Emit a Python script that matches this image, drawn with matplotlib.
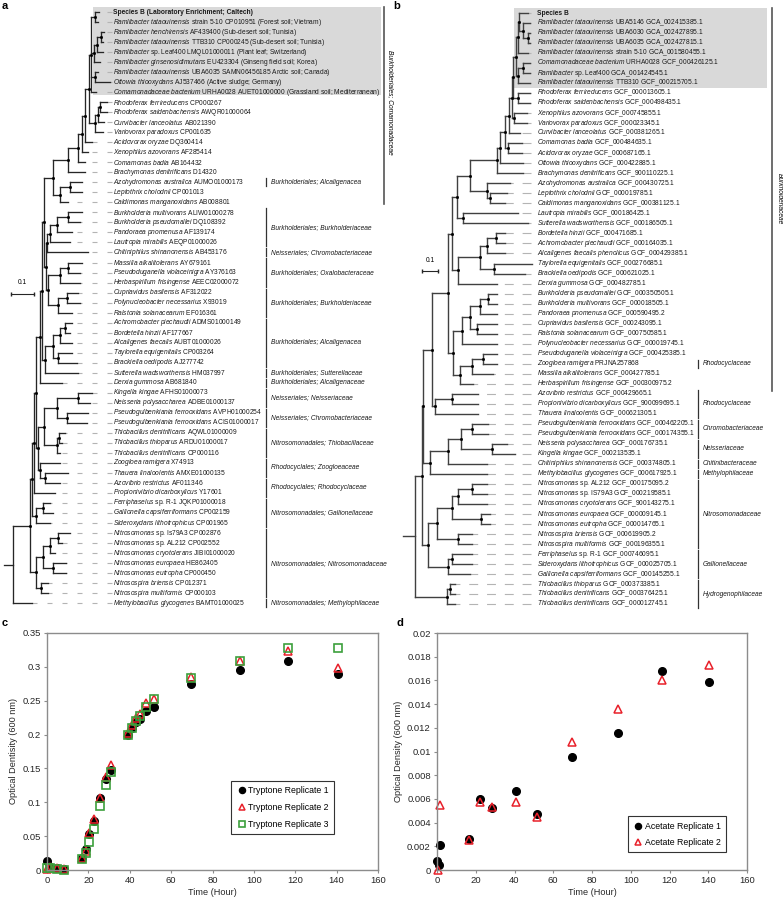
import matplotlib
matplotlib.use("Agg")
import matplotlib.pyplot as plt
from matplotlib.collections import LineCollection
from matplotlib.patches import Rectangle
from matplotlib.ticker import MultipleLocator, FuncFormatter

plt.rcParams["font.family"] = ["Liberation Sans", "DejaVu Sans"]
plt.rcParams["mathtext.fontset"] = "custom"
plt.rcParams["mathtext.it"] = "Liberation Sans:italic"
plt.rcParams["mathtext.rm"] = "Liberation Sans"
plt.rcParams["mathtext.bf"] = "Liberation Sans:bold"

# -------- TREE a : 16S rRNA --------
# (italic part, plain part); empty italic part = bold label
TAXA_A = [
    ("", "Species B (Laboratory Enrichment; Caltech)"),
    ("Ramlibacter tataouinensis", "strain 5-10 CP010951 (Forest soil; Vietnam)"),
    ("Ramlibacter henchirensis", "AF439400 (Sub-desert soil; Tunisia)"),
    ("Ramlibacter tataouinensis", "TTB310 CP000245 (Sub-desert soil; Tunisia)"),
    ("Ramlibacter", "sp. Leaf400 LMQL01000011 (Plant leaf; Switzerland)"),
    ("Ramlibacter ginsenosidimutans", "EU423304 (Ginseng field soil; Korea)"),
    ("Ramlibacter tataouinensis", "UBA6035 SAMN06456185 Arctic soil; Canada)"),
    ("Ottowia thiooxydans", "AJ537466 (Active sludge; Germany)"),
    ("Comamonadaceae bacterium", "URHA0028 AUET01000000 (Grassland soil; Mediterranean)"),
    ("Rhodoferax ferrireducens", "CP000267"),
    ("Rhodoferax saidenbachensis", "AWQR01000064"),
    ("Curvibacter lanceolatus", "AB021390"),
    ("Variovorax paradoxus", "CP001635"),
    ("Acidovorax oryzae", "DQ360414"),
    ("Xenophilus azovorans", "AF285414"),
    ("Comamonas badia", "AB164432"),
    ("Brachymonas denitrificans", "D14320"),
    ("Azohydromonas australica", "AUMO01000173"),
    ("Leptothrix cholodnii", "CP001013"),
    ("Caldimonas manganoxidans", "AB008801"),
    ("Burkholderia multivorans", "ALIW01000278"),
    ("Burkholderia pseudomallei", "DQ108392"),
    ("Pandoraea pnomenusa", "AF139174"),
    ("Lautropia mirabilis", "AEQP01000026"),
    ("Chitiniphilus shinanonensis", "AB453176"),
    ("Massilia alkalitolerans", "AY679161"),
    ("Pseudoduganella violaceinigra", "AY376163"),
    ("Herbaspirillum frisingense", "AEEC02000072"),
    ("Cupriavidus basilensis", "AF312022"),
    ("Polynucleobacter necessarius", "X93019"),
    ("Ralstonia solanacearum", "EF016361"),
    ("Achromobacter piechaudii", "ADMS01000149"),
    ("Bordetella hinzii", "AF177667"),
    ("Alcaligenes faecalis", "AUBT01000026"),
    ("Taylorella equigenitalis", "CP003264"),
    ("Brackiella oedipodis", "AJ277742"),
    ("Sutterella wadsworthensis", "HM037997"),
    ("Derxia gummosa", "AB681840"),
    ("Kingella kingae", "AFHS01000073"),
    ("Neisseria polysaccharea", "ADBE01000137"),
    ("Pseudogulbenkiania ferrooxidans", "AVPH01000254"),
    ("Pseudogulbenkiania ferrooxidans", "ACIS01000017"),
    ("Thiobacillus denitrificans", "AQWL01000009"),
    ("Thiobacillus thioparus", "ARDU01000017"),
    ("Thiobacillus denitrificans", "CP000116"),
    ("Zoogloea ramigera", "X74913"),
    ("Thauera linaloolentis", "AMXE01000135"),
    ("Azovibrio restrictus", "AF011346"),
    ("Propionivibrio dicarboxylicus", "Y17601"),
    ("Ferriphaselus", "sp. R-1 JQKP01000018"),
    ("Gallionella capsiferriformans", "CP002159"),
    ("Sideroxydans lithotrophicus", "CP001965"),
    ("Nitrosomonas", "sp. Is79A3 CP002876"),
    ("Nitrosomonas", "sp. AL212 CP002552"),
    ("Nitrosomonas cryotolerans", "JIBI01000020"),
    ("Nitrosomonas europaea", "HE862405"),
    ("Nitrosomonas eutropha", "CP000450"),
    ("Nitrosospira briensis", "CP012371"),
    ("Nitrosospira multiformis", "CP000103"),
    ("Methylobacillus glycogenes", "BAMT01000025"),
]

# node -> [(child, branch length)]; integer children are leaves (1-based)
TREE_A = {
    "root": [("A", 0.074), (60, 0.083)],
    "A": [("B", 0.009), ("NITRO", 0.026)],
    "B": [("C", 0.009), ("GAL", 0.017)],
    "C": [("D", 0.009), (49, 0.091)],
    "D": [("U", 0.017), ("L1", 0.009)],
    "U": [("U1", 0.009), (38, 0.096)],
    "U1": [("U2", 0.009), ("ALCSUT", 0.013)],
    "U2": [("TOP", 0.039), ("MID", 0.009)],
    "TOP": [("C0", 0.065), ("AL", 0.030)],
    "C0": [("C1", 0.043), (17, 0.074)],
    "C1": [("C2", 0.017), (16, 0.030)],
    "C2": [("C3", 0.013), (15, 0.026)],
    "C3": [("C4", 0.017), (14, 0.030)],
    "C4": [("GREY", 0.009), ("RHO", 0.026)],
    "GREY": [("G1", 0.017), ("G2", 0.013), ("G3", 0.017), (9, 0.022)],
    "G1": [(1, 0.017), (2, 0.013)],
    "G2": [("G2a", 0.013), (6, 0.026)],
    "G2a": [("G2b", 0.017), (5, 0.026)],
    "G2b": [(3, 0.013), (4, 0.009)],
    "G3": [(7, 0.013), (8, 0.065)],
    "RHO": [("R1", 0.013), (13, 0.035)],
    "R1": [("R2", 0.009), (12, 0.026)],
    "R2": [(10, 0.030), (11, 0.030)],
    "AL": [("AL1", 0.043), (20, 0.035)],
    "AL1": [(18, 0.052), (19, 0.052)],
    "MID": [("MIDa", 0.004), ("OX", 0.009)],
    "MIDa": [("BRK", 0.013), (25, 0.178)],
    "BRK": [("BRK1", 0.030), (24, 0.087)],
    "BRK1": [("BRK1a", 0.048), (23, 0.065)],
    "BRK1a": [(21, 0.061), (22, 0.052)],
    "OX": [("OX1", 0.052), ("CPR", 0.043)],
    "OX1": [("OX1a", 0.035), (28, 0.087)],
    "OX1a": [(26, 0.061), (27, 0.052)],
    "CPR": [("CPR1", 0.039), (31, 0.061)],
    "CPR1": [(29, 0.048), (30, 0.057)],
    "ALCSUT": [("ALC", 0.035), (37, 0.143)],
    "ALC": [("ALC1", 0.030), ("ALC2", 0.022)],
    "ALC1": [("ALC1a", 0.022), (34, 0.052)],
    "ALC1a": [(32, 0.030), (33, 0.022)],
    "ALC2": [(35, 0.061), (36, 0.083)],
    "L1": [("NT", 0.026), ("RH", 0.009)],
    "NT": [("NC", 0.057), ("THIO", 0.057)],
    "NC": [("NEI", 0.091), ("PSG", 0.043)],
    "NEI": [(39, 0.061), (40, 0.052)],
    "PSG": [(41, 0.091), (42, 0.087)],
    "THIO": [("T1", 0.009), (45, 0.013)],
    "T1": [(43, 0.022), (44, 0.013)],
    "RH": [(46, 0.087), ("TA", 0.022)],
    "TA": [(47, 0.100), (48, 0.065)],
    "GAL": [("GAL1", 0.030), (52, 0.061)],
    "GAL1": [(50, 0.030), (51, 0.043)],
    "NITRO": [("NSM", 0.030), ("NSP", 0.022)],
    "NSM": [("NSa", 0.030), ("NSb", 0.043)],
    "NSa": [("NSa1", 0.035), (55, 0.022)],
    "NSa1": [(53, 0.052), (54, 0.017)],
    "NSb": [(56, 0.057), (57, 0.057)],
    "NSP": [(58, 0.030), (59, 0.030)],
}

GROUPS_A = [
    (18, 18, "Burkholderiales; Alcaligenacea"),
    (21, 24, "Burkholderiales; Burkholderiaceae"),
    (25, 25, "Neisseriales; Chromobacteriaceae"),
    (26, 28, "Burkholderiales; Oxalobacteraceae"),
    (29, 31, "Burkholderiales; Burkholderiaceae"),
    (32, 36, "Burkholderiales; Alcaligenacea"),
    (37, 37, "Burkholderiales; Sutterellaceae"),
    (38, 38, "Burkholderiales; Alcaligenaceae"),
    (39, 40, "Neisseriales; Neisseriaceae"),
    (41, 42, "Neisseriales; Chromobacteriaceae"),
    (43, 45, "Nitrosomonadales; Thiobacillaceae"),
    (46, 47, "Rhodocyclales; Zoogloeaceae"),
    (48, 49, "Rhodocyclales; Rhodocyclaceae"),
    (50, 52, "Nitrosomonadales; Gallionellaceae"),
    (53, 59, "Nitrosomonadales; Nitrosomonadaceae"),
    (60, 60, "Nitrosomonadales; Methylophilaceae"),
]
CLADE_A = (1, 20, "Burkholderiales; Comamonadaceae")

# -------- TREE b : genomes --------
TAXA_B = [
    ("", "Species B"),
    ("Ramlibacter tataouinensis", "UBA5146 GCA_002415385.1"),
    ("Ramlibacter tataouinensis", "UBA6030 GCA_002427895.1"),
    ("Ramlibacter tataouinensis", "UBA6035 GCA_002427815.1"),
    ("Ramlibacter tataouinensis", "strain 5-10 GCA_001580455.1"),
    ("Comamonadaceae bacterium", "URHA0028 GCF_000426125.1"),
    ("Ramlibacter", "sp. Leaf400 GCA_001424545.1"),
    ("Ramlibacter tataouinensis", "TTB310 GCF_000215705.1"),
    ("Rhodoferax ferrireducens", "GCF_000013605.1"),
    ("Rhodoferax saidenbachensis", "GCF_000498435.1"),
    ("Xenophilus azovorans", "GCF_000745855.1"),
    ("Variovorax paradoxus", "GCF_000023345.1"),
    ("Curvibacter lanceolatus", "GCF_000381265.1"),
    ("Comamonas badia", "GCF_000484635.1"),
    ("Acidovorax oryzae", "GCF_000687165.1"),
    ("Ottowia thiooxydans", "GCF_000422885.1"),
    ("Brachymonas denitrificans", "GCF_900110225.1"),
    ("Azohydromonas australica", "GCF_000430725.1"),
    ("Leptothrix cholodnii", "GCF_000019785.1"),
    ("Caldimonas manganoxidans", "GCF_000381125.1"),
    ("Lautropia mirabilis", "GCF_000186425.1"),
    ("Sutterella wadsworthensis", "GCF_000186505.1"),
    ("Bordetella hinzii", "GCF_000471685.1"),
    ("Achromobacter piechaudii", "GCF_000164035.1"),
    ("Alcaligenes faecalis phenolicus", "GCF_000429385.1"),
    ("Taylorella equigenitalis", "GCF_000276685.1"),
    ("Brackiella oedipodis", "GCF_000621025.1"),
    ("Derxia gummosa", "GCF_000482785.1"),
    ("Burkholderia pseudomallei", "GCF_000350505.1"),
    ("Burkholderia multivorans", "GCF_000018505.1"),
    ("Pandoraea pnomenusa", "GCF_000590495.2"),
    ("Cupriavidus basilensis", "GCF_000243095.1"),
    ("Ralstonia solanacearum", "GCF_000750585.1"),
    ("Polynucleobacter necessarius", "GCF_000019745.1"),
    ("Pseudoduganella violaceinigra", "GCF_000425385.1"),
    ("Zoogloea ramigera", "PRJNA257868"),
    ("Massilia alkalitolerans", "GCF_000427785.1"),
    ("Herbaspirillum frisingense", "GCF_000300975.2"),
    ("Azovibrio restrictus", "GCF_000429665.1"),
    ("Propionivibrio dicarboxylicus", "GCF_900099695.1"),
    ("Thauera linaloolentis", "GCF_000621305.1"),
    ("Pseudogulbenkiania ferrooxidans", "GCF_000462205.1"),
    ("Pseudogulbenkiania ferrooxidans", "GCF_000174355.1"),
    ("Neisseria polysaccharea", "GCF_000176735.1"),
    ("Kingella kingae", "GCF_000213535.1"),
    ("Chitiniphilus shinanonensis", "GCF_000374805.1"),
    ("Methylobacillus glycogenes", "GCF_000617925.1"),
    ("Nitrosomonas", "sp. AL212 GCF_000175095.2"),
    ("Nitrosomonas", "sp. IS79A3 GCF_000219585.1"),
    ("Nitrosomonas cryotolerans", "GCF_900143275.1"),
    ("Nitrosomonas europaea", "GCF_000009145.1"),
    ("Nitrosomonas eutropha", "GCF_000014765.1"),
    ("Nitrosospira briensis", "GCF_000619905.2"),
    ("Nitrosospira multiformis", "GCF_000196355.1"),
    ("Ferriphaselus", "sp. R-1 GCF_000746095.1"),
    ("Sideroxydans lithotrophicus", "GCF_000025705.1"),
    ("Gallionella capsiferriformans", "GCF_000145255.1"),
    ("Thiobacillus thioparus", "GCF_000373385.1"),
    ("Thiobacillus denitrificans", "GCF_000376425.1"),
    ("Thiobacillus denitrificans", "GCF_000012745.1"),
]

TREE_B = {
    "root": [("P", 0.044), ("HYD", 0.200)],
    "P": [("Q", 0.006), ("NGAL", 0.038)],
    "Q": [("UB", 0.056), ("CNM", 0.044)],
    "UB": [("UBa", 0.100), ("RCb", 0.019)],
    "UBa": [("UB1", 0.025), ("BO", 0.031)],
    "UB1": [("CM", 0.031), ("ALD", 0.038)],
    "CM": [("COMALL", 0.081), ("LS", 0.038)],
    "COMALL": [("COM", 0.169), ("AZ", 0.106)],
    "COM": [("COMa", 0.019), (17, 0.163)],
    "COMa": [("COMb", 0.031), (16, 0.144)],
    "COMb": [("COMc", 0.025), ("CA", 0.019)],
    "COMc": [("COMd", 0.019), (13, 0.069)],
    "COMd": [("COMe", 0.006), ("XV", 0.013)],
    "COMe": [("GRb", 0.019), ("RHb", 0.031)],
    "GRb": [("GRb1", 0.013), ("GRb2", 0.013)],
    "GRb1": [("GRb1a", 0.006), (5, 0.063)],
    "GRb1a": [(1, 0.056), ("GRb1b", 0.025)],
    "GRb1b": [(2, 0.044), ("GRb1c", 0.031)],
    "GRb1c": [(3, 0.013), (4, 0.013)],
    "GRb2": [("GRb2a", 0.031), (8, 0.075)],
    "GRb2a": [(6, 0.044), (7, 0.044)],
    "RHb": [(9, 0.075), (10, 0.075)],
    "XV": [(11, 0.081), (12, 0.081)],
    "CA": [(14, 0.088), (15, 0.088)],
    "AZ": [(18, 0.144), ("AZ1", 0.019)],
    "AZ1": [(19, 0.106), (20, 0.094)],
    "LS": [(21, 0.344), (22, 0.406)],
    "ALD": [("ALCb", 0.138), (28, 0.244)],
    "ALCb": [("ALCb1", 0.044), ("ALCb2", 0.088)],
    "ALCb1": [("ALCb1a", 0.056), (25, 0.113)],
    "ALCb1a": [(23, 0.056), (24, 0.056)],
    "ALCb2": [(26, 0.238), (27, 0.194)],
    "BO": [("BK", 0.056), ("OXb", 0.044)],
    "BK": [("BK1", 0.050), (34, 0.219)],
    "BK1": [("BK2", 0.063), ("BK3", 0.044)],
    "BK2": [("BK2a", 0.050), (31, 0.106)],
    "BK2a": [(29, 0.056), (30, 0.056)],
    "BK3": [(32, 0.125), (33, 0.125)],
    "OXb": [("OXb1", 0.075), (38, 0.081)],
    "OXb1": [("OXb2", 0.069), (37, 0.131)],
    "OXb2": [(35, 0.088), (36, 0.088)],
    "RCb": [("RC1", 0.106), (41, 0.269)],
    "RC1": [(39, 0.163), (40, 0.163)],
    "CNM": [("CNM1", 0.113), (47, 0.356)],
    "CNM1": [("CNM2", 0.081), (46, 0.244)],
    "CNM2": [("PSGb", 0.069), ("NEIb", 0.194)],
    "PSGb": [(42, 0.100), (43, 0.100)],
    "NEIb": [(44, 0.094), (45, 0.144)],
    "NGAL": [("NIT", 0.056), ("GALb", 0.125)],
    "NIT": [("NS", 0.094), ("NSPb", 0.131)],
    "NS": [("NSa", 0.038), ("NSb", 0.181)],
    "NSa": [("NSa1", 0.088), (50, 0.181)],
    "NSa1": [(48, 0.094), (49, 0.094)],
    "NSb": [(51, 0.056), (52, 0.056)],
    "NSPb": [(53, 0.088), (54, 0.088)],
    "GALb": [("G1", 0.025), (57, 0.138)],
    "G1": [(55, 0.125), (56, 0.125)],
    "HYD": [("H1", 0.019), (60, 0.050)],
    "H1": [(58, 0.031), (59, 0.031)],
}

GROUPS_B = [
    (36, 36, "Rhodocyclaceae"),
    (39, 41, "Rhodocyclaceae"),
    (42, 43, "Chromobacteriaceae"),
    (44, 45, "Neisseriaceae"),
    (46, 46, "Chitinibacteraceae"),
    (47, 47, "Methylophilaceae"),
    (48, 54, "Nitrosomonadaceae"),
    (55, 57, "Gallionellaceae"),
    (58, 60, "Hydrogenophilaceae"),
]
CLADE_B = (1, 38, "Burkholderiaceae")

# -------- GROWTH CURVES --------
TIME_TRYP = [0, 1.5, 5, 8, 17, 19, 20.5, 22.7, 25.6, 28.5, 31, 39, 41, 43, 45, 48,
             51.5, 69.5, 93.4, 116.5, 140.5]
TRYP_1 = [0.014, 0.004, 0.0025, 0.001, 0.018, 0.031, 0.053, 0.073, 0.106, 0.134, 0.148,
          0.200, 0.210, 0.219, 0.223, 0.235, 0.241, 0.275, 0.295, 0.309, 0.290]
TRYP_2 = [0.0015, 0.004, 0.003, 0.001, 0.018, 0.028, 0.054, 0.075, 0.107, 0.137, 0.155,
          0.202, 0.214, 0.224, 0.231, 0.246, 0.253, 0.285, 0.308, 0.323, 0.298]
TRYP_3 = [0.0025, 0.003, 0.002, 0.0005, 0.016, 0.025, 0.041, 0.060, 0.094, 0.125, 0.145,
          0.200, 0.210, 0.220, 0.228, 0.240, 0.252, 0.284, 0.309, 0.328, 0.328]

TIME_ACE_1 = [0, 0.8, 1.5, 16.7, 22.2, 28.6, 40.6, 51.5, 69.5, 93.5, 116.2, 140.4]
ACE_1 = [0.0008, 0.0004, 0.0021, 0.0026, 0.0060, 0.0052, 0.0067, 0.0047, 0.0095,
         0.0116, 0.0168, 0.0159]
TIME_ACE_2 = [0.4, 1.5, 16.7, 22.2, 28.6, 40.6, 51.5, 69.5, 93.5, 116.2, 140.4]
ACE_2 = [0.0000, 0.0055, 0.0025, 0.0057, 0.0053, 0.0057, 0.0045, 0.0108, 0.0136,
         0.0160, 0.0173]

W, H = 783, 900
TREE_FS = 4.8


def px_rect(x0, y0, x1, y1):
    return [x0 / W, 1 - y1 / H, (x1 - x0) / W, (y1 - y0) / H]


def taxon_text(italic, rest):
    if not italic:
        return rest
    words = " ".join(r"$\mathit{%s}$" % w for w in italic.split())
    return words + " " + rest


def draw_tree(ax, tree, taxa, label_x, dash_end, dash, color, lw, stub):
    xs, ys = {}, {}

    def walk(node, x):
        xs[node] = x
        if node in tree:
            cy = [walk(child, x + length) for child, length in tree[node]]
            ys[node] = (min(cy) + max(cy)) / 2
        else:
            ys[node] = node - 1
        return ys[node]

    walk("root", 0.0)
    segs = [[(-stub, ys["root"]), (0, ys["root"])]]
    for node, kids in tree.items():
        cy = [ys[k] for k, _ in kids]
        segs.append([(xs[node], min(cy)), (xs[node], max(cy))])
        for k, _ in kids:
            segs.append([(xs[node], ys[k]), (xs[k], ys[k])])
    ax.add_collection(LineCollection(segs, colors=color, linewidths=lw,
                                     capstyle="projecting", zorder=2))
    inner = [n for n in tree if n != "root"]
    ax.plot([xs[n] for n in inner], [ys[n] for n in inner], "s", ms=1.0,
            color="black", zorder=3)

    for i, (ital, rest) in enumerate(taxa, start=1):
        y = i - 1
        if xs[i] < dash_end:
            ax.plot([dash_end, xs[i]], [y, y], color="#b4b4b4", lw=0.8,
                    ls=(0, dash), zorder=1)
        ax.text(label_x, y, taxon_text(ital, rest), fontsize=TREE_FS,
                va="center", ha="left", color="#1a1a1a",
                fontweight="normal" if ital else "bold")
    return xs, ys


def draw_groups(ax, groups, bar_x, text_x):
    for first, last, name in groups:
        ax.plot([bar_x, bar_x], [first - 1.4, last - 0.6], color="#333333", lw=0.9)
        ax.text(text_x, (first + last) / 2 - 1, name, fontsize=TREE_FS,
                style="italic", va="center", ha="left", color="#1a1a1a")


fig = plt.figure(figsize=(W / 100, H / 100), dpi=100)

# ---- a ----
sa = 230.0  # px per substitution unit
axa = fig.add_axes(px_rect(0, 0, 390, 615))
axa.axis("off")
axa.set_xlim(-13 / sa, 377 / sa)
axa.set_ylim((615 - 12) / 10.02, -12 / 10.02)
axa.add_patch(Rectangle((80 / sa, -0.5), 288 / sa, 8.8, facecolor="#d9d9d9",
                        edgecolor="none", zorder=0))
draw_tree(axa, TREE_A, TAXA_A, 100 / sa, 99 / sa, (4.5, 9), "#262626", 0.95, 9 / sa)
draw_groups(axa, GROUPS_A, 253 / sa, 258 / sa)
first, last, name = CLADE_A
axa.plot([371 / sa] * 2, [first - 1.5, last - 0.8], color="#555555", lw=1.2)
axa.text(377 / sa, (first + last) / 2 - 1.5, name, rotation=270, fontsize=TREE_FS,
         style="italic", va="center", ha="center", clip_on=False)
axa.plot([-2 / sa, -2 / sa + 0.1], [28.1, 28.1], color="#262626", lw=0.8,
         marker="|", ms=3)
axa.text(-2 / sa + 0.05, 27.3, "0.1", fontsize=TREE_FS, ha="center", va="bottom")

# ---- b ----
sb = 160.0
axb = fig.add_axes(px_rect(390, 0, 783, 615))
axb.axis("off")
axb.set_xlim(-25 / sb, 368 / sb)
axb.set_ylim((615 - 13) / 10.02, -13 / 10.02)
axb.add_patch(Rectangle((99 / sb, -0.5), 253 / sb, 8.0, facecolor="#d9d9d9",
                        edgecolor="none", zorder=0))
draw_tree(axb, TREE_B, TAXA_B, 122 / sb, 116 / sb, (8.0, 8.0), "#404040", 1.0, 12 / sb)
draw_groups(axb, GROUPS_B, 283 / sb, 288 / sb)
first, last, name = CLADE_B
axb.plot([357 / sb] * 2, [first - 1.5, last - 0.3], color="#555555", lw=1.2)
axb.text(364 / sb, (first + last) / 2 - 1, name, rotation=270, fontsize=TREE_FS,
         style="italic", va="center", ha="center", clip_on=False)
axb.plot([7 / sb, 7 / sb + 0.1], [25.75, 25.75], color="#262626", lw=0.8,
         marker="|", ms=3)
axb.text(7 / sb + 0.05, 25.0, "0.1", fontsize=TREE_FS, ha="center", va="bottom")


# ---- growth curves ----
def style_growth(ax, ymax, ystep, ylabel):
    ax.set_xlim(0, 160)
    ax.set_ylim(0, ymax)
    ax.xaxis.set_major_locator(MultipleLocator(20))
    ax.yaxis.set_major_locator(MultipleLocator(ystep))
    fmt = FuncFormatter(lambda v, p: f"{v:g}")
    ax.xaxis.set_major_formatter(fmt)
    ax.yaxis.set_major_formatter(fmt)
    for s in ax.spines.values():
        s.set_color("#8c8c8c")
        s.set_linewidth(1.0)
    ax.tick_params(labelsize=6.8, length=2.5, width=0.8, color="#8c8c8c",
                   labelcolor="#262626", pad=2)
    ax.set_xlabel("Time (Hour)", fontsize=6.6, labelpad=2, color="#262626")
    ax.set_ylabel(ylabel, fontsize=6.6, labelpad=3, color="#262626")


RED = "#e8202a"
GREEN = "#3ca03c"

axc = fig.add_axes(px_rect(47, 633, 378, 870))
axc.plot(TIME_TRYP, TRYP_1, "o", ms=5.5, color="black", clip_on=False,
         label="Tryptone Replicate 1")
axc.plot(TIME_TRYP, TRYP_2, "^", ms=6, mfc="none", mec=RED, mew=1.1, clip_on=False,
         label="Tryptone Replicate 2")
axc.plot(TIME_TRYP, TRYP_3, "s", ms=6, mfc="none", mec=GREEN, mew=1.2, clip_on=False,
         label="Tryptone Replicate 3")
style_growth(axc, 0.35, 0.05, "Optical Dentisity (600 nm)")
leg = axc.legend(loc="lower left", bbox_to_anchor=(0.556, 0.152), fontsize=6.3,
                 fancybox=False, edgecolor="#333333", framealpha=1, borderaxespad=0,
                 handletextpad=0.1, handlelength=1.2, labelspacing=0.9, borderpad=0.6,
                 markerscale=0.8)
leg.get_frame().set_linewidth(0.8)

axd = fig.add_axes(px_rect(437, 633, 747, 870))
axd.plot(TIME_ACE_1, ACE_1, "o", ms=5.5, color="black", clip_on=False,
         label="Acetate Replicate 1")
axd.plot(TIME_ACE_2, ACE_2, "^", ms=6, mfc="none", mec=RED, mew=1.1, clip_on=False,
         label="Acetate Replicate 2")
style_growth(axd, 0.02, 0.002, "Optical Density (600 nm)")
leg = axd.legend(loc="lower left", bbox_to_anchor=(0.616, 0.076), fontsize=6.3,
                 fancybox=False, edgecolor="#333333", framealpha=1, borderaxespad=0,
                 handletextpad=0.1, handlelength=1.2, labelspacing=0.8, borderpad=0.6,
                 markerscale=0.8)
leg.get_frame().set_linewidth(0.8)

# ---- panel letters ----
for letter, (px, py) in zip("abcd", [(2, 6), (393, 6), (2, 623), (396, 623)]):
    fig.text(px / W, 1 - py / H, letter, fontsize=8, fontweight="bold",
             ha="left", va="center")

fig.savefig("out.png", dpi=100)
